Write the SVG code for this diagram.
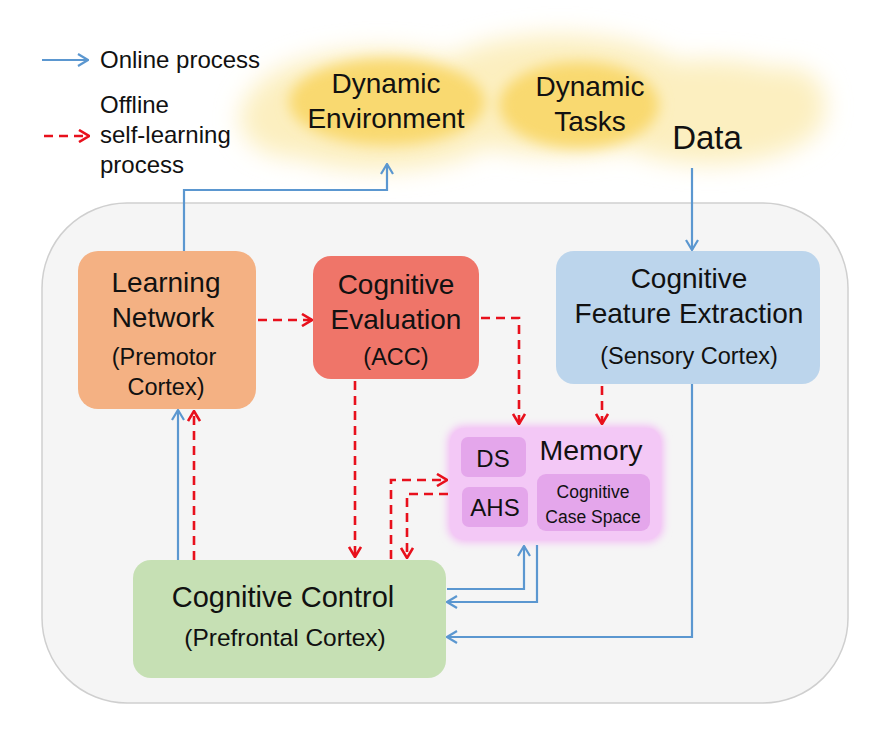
<svg xmlns="http://www.w3.org/2000/svg" width="890" height="735" viewBox="0 0 890 735">
<defs>
<style>
text{font-family:"Liberation Sans",Arial,sans-serif;fill:#111;text-anchor:middle}
.t24{font-size:28px}
.t20{font-size:23.5px}
.lg{font-size:24px;text-anchor:start}
.blue{fill:none;stroke:#5b97d0;stroke-width:2.2}
.red{fill:none;stroke:#e8101c;stroke-width:2.6;stroke-dasharray:9 6}
</style>
<marker id="ab" viewBox="0 0 12 14" refX="11" refY="7" markerWidth="12" markerHeight="14" markerUnits="userSpaceOnUse" orient="auto">
<path d="M1,1 L11,7 L1,13" fill="none" stroke="#5b97d0" stroke-width="2.2"/>
</marker>
<marker id="ar" viewBox="0 0 12 14" refX="11" refY="7" markerWidth="12" markerHeight="14" markerUnits="userSpaceOnUse" orient="auto">
<path d="M1,1 L11,7 L1,13" fill="none" stroke="#e8101c" stroke-width="2.6"/>
</marker>
<filter id="blur" x="-30%" y="-50%" width="160%" height="200%"><feGaussianBlur stdDeviation="12"/></filter>
<filter id="blur2" x="-30%" y="-50%" width="160%" height="200%"><feGaussianBlur stdDeviation="7"/></filter>
<filter id="glow" x="-20%" y="-20%" width="140%" height="140%"><feGaussianBlur stdDeviation="4"/></filter>
</defs>
<rect width="890" height="735" fill="#ffffff"/>

<g id="clouds">
<g filter="url(#blur)" fill="#fcefc0">
<ellipse cx="380" cy="110" rx="135" ry="60"/>
<ellipse cx="560" cy="95" rx="140" ry="60"/>
<ellipse cx="710" cy="112" rx="115" ry="52"/>
<ellipse cx="295" cy="118" rx="55" ry="40"/>
<ellipse cx="785" cy="102" rx="40" ry="35"/>
</g>
<g filter="url(#blur2)" fill="#f9d970">
<ellipse cx="387" cy="102" rx="98" ry="43"/>
<ellipse cx="579" cy="105" rx="80" ry="43"/>
</g>
</g>

<g id="container">
<rect x="42" y="203" width="806" height="500" rx="85" ry="85" fill="#f5f5f5" stroke="#cfcfcf" stroke-width="1.5"/>
</g>

<g id="legend">
<line x1="42" y1="60" x2="88" y2="60" class="blue" marker-end="url(#ab)"/>
<text x="100" y="68" class="lg">Online process</text>
<line x1="44" y1="136" x2="89" y2="136" class="red" marker-end="url(#ar)"/>
<text x="100" y="113" class="lg">Offline</text>
<text x="100" y="143" class="lg">self-learning</text>
<text x="100" y="173" class="lg">process</text>
</g>

<g id="env-labels">
<text x="386" y="93" class="t24">Dynamic</text>
<text x="386" y="128" class="t24">Environment</text>
<text x="590" y="96" class="t24">Dynamic</text>
<text x="590" y="131" class="t24">Tasks</text>
<text x="707" y="149" style="font-size:33px">Data</text>
</g>

<g id="learning-network">
<rect x="78" y="251" width="178" height="158" rx="20" fill="#f4b183"/>
<text x="166" y="292" class="t24">Learning</text>
<text x="163" y="327" class="t24">Network</text>
<text x="164" y="365" class="t20">(Premotor</text>
<text x="166" y="395" class="t20">Cortex)</text>
</g>

<g id="cognitive-evaluation">
<rect x="313" y="256" width="166" height="123" rx="18" fill="#ef7569"/>
<text x="396" y="294" class="t24">Cognitive</text>
<text x="396" y="329" class="t24">Evaluation</text>
<text x="396" y="365" class="t20">(ACC)</text>
</g>

<g id="feature-extraction">
<rect x="556" y="251" width="264" height="133" rx="18" fill="#bcd5ec"/>
<text x="689" y="288" class="t24">Cognitive</text>
<text x="689" y="323" class="t24">Feature Extraction</text>
<text x="689" y="364" class="t20">(Sensory Cortex)</text>
</g>

<g id="memory">
<rect x="448" y="426" width="215" height="116" rx="16" fill="#f2b6f4" filter="url(#glow)"/>
<rect x="450" y="428" width="211" height="112" rx="15" fill="#f3c8f6"/>
<rect x="461" y="437" width="65" height="40" rx="7" fill="#e4a6eb"/>
<rect x="462" y="487" width="66" height="40" rx="7" fill="#e4a6eb"/>
<rect x="537" y="474" width="113" height="57" rx="9" fill="#e4a6eb"/>
<text x="591" y="460" style="font-size:28.5px">Memory</text>
<text x="493" y="467" style="font-size:24px">DS</text>
<text x="495" y="516" style="font-size:24px">AHS</text>
<text x="593" y="498" style="font-size:17.5px">Cognitive</text>
<text x="593" y="523" style="font-size:17.5px">Case Space</text>
</g>

<g id="cognitive-control">
<rect x="133" y="560" width="313" height="118" rx="18" fill="#c6e0b4"/>
<text x="283" y="607" style="font-size:29px">Cognitive Control</text>
<text x="285" y="646" style="font-size:24.5px">(Prefrontal Cortex)</text>
</g>

<g id="connectors">
<polyline points="184,251 184,190 387,190 387,164" class="blue" marker-end="url(#ab)"/>
<polyline points="692,168 692,250" class="blue" marker-end="url(#ab)"/>
<polyline points="692,384 692,637 447,637" class="blue" marker-end="url(#ab)"/>
<polyline points="447,589 524,589 524,546" class="blue" marker-end="url(#ab)"/>
<polyline points="537,545 537,602 447,602" class="blue" marker-end="url(#ab)"/>
<polyline points="178,560 178,410" class="blue" marker-end="url(#ab)"/>

<polyline points="258,320 312,320" class="red" marker-end="url(#ar)"/>
<polyline points="481,318 519,318 519,424" class="red" marker-end="url(#ar)"/>
<polyline points="602,386 602,424" class="red" marker-end="url(#ar)"/>
<polyline points="355,381 355,557" class="red" marker-end="url(#ar)"/>
<polyline points="194,560 194,411" class="red" marker-end="url(#ar)"/>
<polyline points="391,559 391,480 447,480" class="red" marker-end="url(#ar)"/>
<polyline points="448,494 407,494 407,558" class="red" marker-end="url(#ar)"/>
</g>
</svg>
